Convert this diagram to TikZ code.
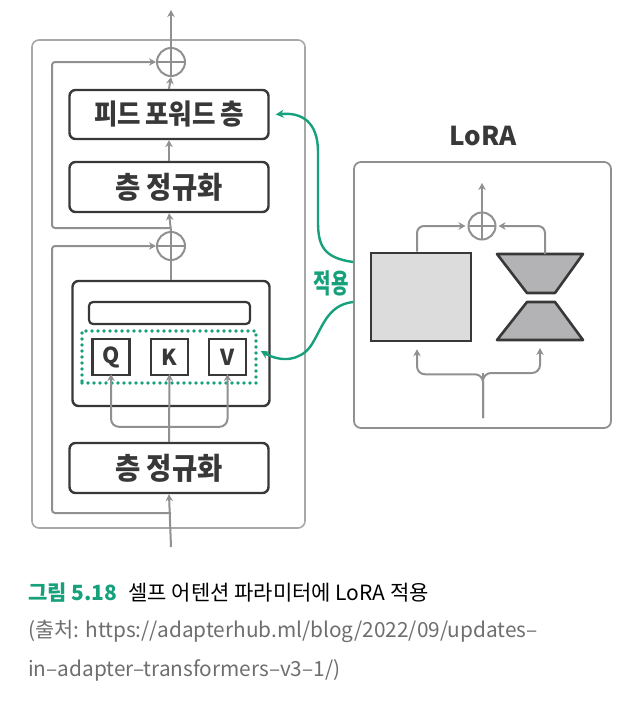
\documentclass[tikz,border=0pt]{standalone}
\usepackage{fontspec}
\setmainfont{Noto Sans CJK KR}
\usetikzlibrary{arrows.meta,calc}
\definecolor{grn}{HTML}{17A07C}
\definecolor{lgray}{HTML}{909090}
\definecolor{obox}{HTML}{A8A8A8}
\definecolor{dark}{HTML}{383838}
\definecolor{capgray}{HTML}{6E6E6E}
\definecolor{sqfill}{HTML}{DCDCDD}
\definecolor{hgfill}{HTML}{B3B3B5}
\tikzset{
  layerbox/.style={draw=dark, line width=2.4pt, rounded corners=6pt, text=dark, font=\bfseries\fontsize{25}{25}\selectfont},
  qkvbox/.style={draw=dark, line width=2.2pt, minimum width=37pt, minimum height=36pt, text=dark, font=\bfseries\fontsize{22}{22}\selectfont, inner sep=0pt},
  ar/.style={draw=lgray, line width=2pt, -{Stealth[length=7pt,width=7.5pt]}},
  ln/.style={draw=lgray, line width=2pt},
  plusnode/.style={circle, draw=lgray, line width=2pt, minimum size=#1, inner sep=0pt,
    path picture={\draw[lgray, line width=2pt] (path picture bounding box.north) -- (path picture bounding box.south)
      (path picture bounding box.west) -- (path picture bounding box.east);}},
  garrow/.style={draw=grn, line width=2.4pt, -{Stealth[length=8pt,width=8pt]}},
}
\begin{document}
\begin{tikzpicture}[x=1pt,y=-1pt]
\useasboundingbox (0,0) rectangle (629,705);
% outer block
\node[draw=obox, line width=1.6pt, rounded corners=7pt, minimum width=273pt, minimum height=488pt] (outer) at (168.5,284) {};
% layers
\node[layerbox, minimum width=199pt, minimum height=49pt] (ff) at (169,114.5) {\scalebox{1.02}[1.12]{피드\,포워드\,층}};
\node[layerbox, minimum width=199pt, minimum height=50pt] (ln1) at (169,187) {\scalebox{1.1}[1.2]{층 정규화}};
\node[layerbox, minimum width=199pt, minimum height=50pt] (ln2) at (169,468) {\scalebox{1.1}[1.2]{층 정규화}};
\node[draw=dark, line width=2.4pt, rounded corners=6pt, minimum width=197pt, minimum height=125pt] (att) at (171,343.5) {};
\node[draw=dark, line width=2.2pt, rounded corners=4pt, minimum width=161pt, minimum height=22pt] (bar) at (169.5,313) {};
\node[draw=grn, line width=3.6pt, line cap=round, dash pattern=on 0pt off 6pt, minimum width=174pt, minimum height=52pt] (dots) at (169,357) {};
\node[qkvbox] (q) at (111,357) {Q};
\node[qkvbox] (k) at (169.5,357) {K};
\node[qkvbox] (v) at (227.5,357) {V};
% plus nodes
\node[plusnode=28pt] (p1) at (171,62) {};
\node[plusnode=28pt] (p2) at (171,246) {};
\coordinate (top) at (171,10);
\coordinate (bot) at (171,547);
\coordinate (s1) at (52,228);
\coordinate (s2) at (52,513);
% main flow
\draw[ar] (bot) -- (ln2.south);
\draw[ar] (ln2.north) -- ([yshift=2pt]k.south);
\draw[ar, rounded corners=8pt] ($(ln2.north)+(0,-15)$) -| ([yshift=2pt]q.south);
\draw[ar, rounded corners=8pt] ($(ln2.north)+(0,-15)$) -| ([yshift=2pt]v.south);
\draw[ln] (att.north) -- (p2.south);
\draw[ar] (p2.north) -- (ln1.south);
\draw[ar] (ln1.north) -- (ff.south);
\draw[ar] (ff.north) -- (p1.south);
\draw[ar] (p1.north) -- (top);
% residuals
\draw[ar, rounded corners=3pt] (bot |- s2) -- (s2) |- (p2.west);
\draw[ar, rounded corners=3pt] (bot |- s1) -- (s1) |- (p1.west);
% LoRA
\node[font=\bfseries\fontsize{26}{26}\selectfont, text=dark] (loralbl) at (483,136) {LoRA};
\node[draw=lgray, line width=1.8pt, rounded corners=7pt, minimum width=257pt, minimum height=266pt] (lora) at (482.5,295) {};
\node[draw=dark, line width=2.6pt, fill=sqfill, minimum width=100pt, minimum height=88pt] (sq) at (421,297) {};
\draw[dark, line width=2.6pt, fill=hgfill, line join=round] (497,254) -- (583,254) -- (555,293) -- (527,293) -- cycle;
\draw[dark, line width=2.6pt, fill=hgfill, line join=round] (527,302) -- (555,302) -- (583,340) -- (497,340) -- cycle;
\coordinate (hgt) at (545,254);
\coordinate (hgb) at (540,341);
\node[plusnode=27pt, draw=lgray] (lp) at (482,226) {};
\coordinate (lout) at (482,183);
\coordinate (lin) at (483,418);
\coordinate (lsplit) at (483,373);
\draw[ar] (lp.north) -- (lout);
\draw[ar, rounded corners=7pt] ([xshift=-4pt]sq.north) |- ([xshift=-2pt]lp.west);
\draw[ar, rounded corners=7pt] (hgt) |- ([xshift=2pt]lp.east);
\draw[ln] (lin) -- (lsplit);
\draw[ar, rounded corners=8pt] (lin) |- ($(sq.south)+(-4,32)$) -- ($(sq.south)+(-4,7)$);
\draw[ar, rounded corners=8pt] (lin) |- ($(hgb)+(0,32)$) -- ($(hgb)+(0,7)$);
% green connectors
\coordinate (g1) at (lora.west |- 0,262);
\coordinate (g2) at (lora.west |- 0,302);
\draw[garrow] (g1) .. controls (324,258) and (318,246) .. (318,222) -- (318,152) .. controls (318,122) and (302,112) .. ([xshift=6pt]ff.east);
\draw[garrow] (g2) .. controls (326,305) and (322,330) .. (310,347) .. controls (300,360) and (282,363) .. ([xshift=3pt,yshift=6pt]dots.east);
\node[text=grn, font=\bfseries\fontsize{20}{20}\selectfont, inner sep=0pt] (apply) at (331,283) {\scalebox{0.95}[1.35]{적용}};
% caption
\node[anchor=west, inner sep=0pt, font=\fontsize{21}{21}\selectfont] (cap1) at (28,593) {\textcolor{grn}{\bfseries 그림 5.18}\hspace{11pt}셀프 어텐션 파라미터에 LoRA 적용};
\node[anchor=west, inner sep=0pt, text=capgray, font=\fontsize{20.8}{21}\selectfont] (cap2) at (28,631) {(출처: https://adapterhub.ml/blog/2022/09/updates–};
\node[anchor=west, inner sep=0pt, text=capgray, font=\fontsize{20.8}{21}\selectfont] (cap3) at (28,670) {in–adapter–transformers–v3–1/)};
\end{tikzpicture}
\end{document}
